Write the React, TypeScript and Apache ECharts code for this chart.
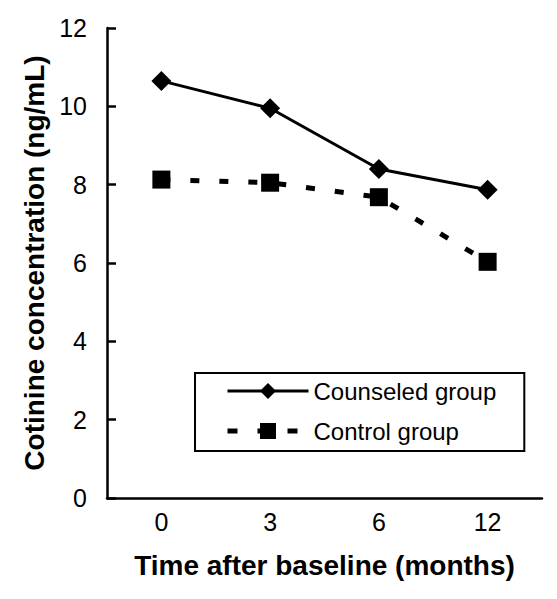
import React, { useEffect, useRef } from "react";
import * as echarts from "echarts";

const categories = ["0", "3", "6", "12"];
const counseled = [10.65, 9.95, 8.4, 7.87];
const control = [8.13, 8.05, 7.68, 6.03];
const yTicks = { min: 0, max: 12, interval: 2 };

export default function App() {
  const ref = useRef<HTMLDivElement>(null);
  useEffect(() => {
    if (!ref.current) return;
    const chart = echarts.init(ref.current, null, { renderer: "svg" });
    const font = "Liberation Sans, Arial, Helvetica, sans-serif";
    chart.setOption({
      animation: false,
      backgroundColor: "#ffffff",
      grid: { left: 107, top: 28, right: 15, bottom: 101 },
      legend: {
        orient: "vertical",
        left: 195,
        top: 373,
        padding: [6, 28, 8, 30],
        itemWidth: 81,
        itemHeight: 20,
        itemGap: 16,
        borderColor: "#000",
        borderWidth: 2,
        textStyle: { fontFamily: font, fontSize: 24, color: "#000" },
        data: [
          { name: "Counseled group", lineStyle: { width: 3, color: "#000" } },
          { name: "Control group", lineStyle: { width: 5, color: "#000", type: [10, 20] } },
        ],
      },
      xAxis: {
        type: "category",
        data: categories,
        boundaryGap: true,
        name: "Time after baseline (months)",
        nameLocation: "middle",
        nameGap: 53,
        nameTextStyle: { fontFamily: font, fontSize: 28, fontWeight: "bold", color: "#000" },
        axisLine: { lineStyle: { color: "#000", width: 2.5 } },
        axisTick: { show: false },
        axisLabel: { fontFamily: font, fontSize: 25, color: "#000", margin: 11 },
        splitLine: { show: false },
      },
      yAxis: {
        type: "value",
        min: yTicks.min,
        max: yTicks.max,
        interval: yTicks.interval,
        name: "Cotinine concentration (ng/mL)",
        nameLocation: "middle",
        nameGap: 58,
        nameTextStyle: { fontFamily: font, fontSize: 28, fontWeight: "bold", color: "#000" },
        axisLine: { show: true, lineStyle: { color: "#000", width: 2.5 } },
        axisTick: { show: true, inside: true, length: 9, lineStyle: { color: "#000", width: 2.5 } },
        axisLabel: { fontFamily: font, fontSize: 25, color: "#000", margin: 20 },
        splitLine: { show: false },
      },
      series: [
        {
          name: "Counseled group",
          type: "line",
          data: counseled,
          symbol: "diamond",
          symbolSize: 20,
          itemStyle: { color: "#000" },
          lineStyle: { color: "#000", width: 3 },
        },
        {
          name: "Control group",
          type: "line",
          data: control,
          symbol: "rect",
          symbolSize: 18,
          itemStyle: { color: "#000" },
          lineStyle: { color: "#000", width: 5, type: [9, 20] },
        },
      ],
    });
    return () => chart.dispose();
  }, []);
  return <div ref={ref} style={{ width: 557, height: 599, margin: -8 }} />;
}
